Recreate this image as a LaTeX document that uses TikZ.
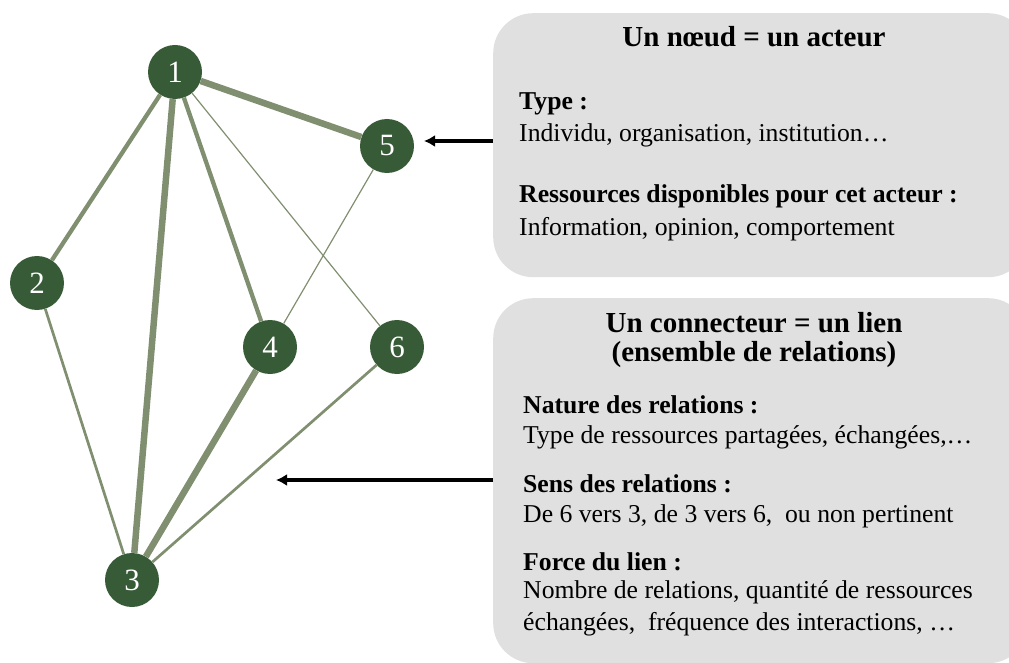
\documentclass[tikz,border=0pt]{standalone}
\usepackage{fontspec}
\setmainfont{Liberation Serif}
\usepackage{xcolor}
\usetikzlibrary{positioning,arrows.meta}

\definecolor{noeud}{RGB}{55,90,55}
\definecolor{lien}{RGB}{127,143,112}
\definecolor{fond}{RGB}{224,224,224}

\tikzset{
    acteur/.style={circle,fill=noeud,text=white,minimum size=54pt,inner sep=0pt,font=\fontsize{31}{31}\selectfont},
    lienfort/.style={draw=lien,line width=6.5pt},
    lienmoyen/.style={draw=lien,line width=4.3pt},
    lienfaible/.style={draw=lien,line width=2.7pt},
    lientenu/.style={draw=lien,line width=1.2pt},
    encadre/.style={fill=fond,rounded corners=40pt,inner sep=0pt,anchor=north west},
    titre/.style={font=\fontsize{29}{30}\selectfont\bfseries,anchor=base,inner sep=0pt},
    rubrique/.style={font=\fontsize{25.7}{31}\selectfont\bfseries,anchor=base west,inner sep=0pt},
    texte/.style={font=\fontsize{25.7}{31}\selectfont,anchor=base west,inner sep=0pt},
    fleche/.style={-{Latex[length=11pt,width=12pt]},line width=3.6pt}
}

\begin{document}
\begin{tikzpicture}[x=1pt,y=-1pt]
                    \useasboundingbox (0,0) rectangle (1009,663);
                    \clip (0,0) rectangle (1009,663);

                    % les deux encadres
                    \node[encadre,minimum width=535pt,minimum height=264pt] (boiteacteur) at (493,13) {};
                    \node[encadre,minimum width=535pt,minimum height=365pt] (boitelien) at (493,298) {};

                    % le reseau
                    \node[acteur] (n1) at (175,72) {1};
                    \node[acteur] (n2) at (37,283) {2};
                    \node[acteur] (n3) at (132,580) {3};
                    \node[acteur] (n4) at (270,347) {4};
                    \node[acteur] (n5) at (387,146) {5};
                    \node[acteur] (n6) at (397,347) {6};

                    \draw[lienfort] (n1) -- (n5);
                    \draw[lienfort] (n1) -- (n3);
                    \draw[lienfort] (n4) -- (n3);
                    \draw[lienmoyen] (n1) -- (n2);
                    \draw[lienmoyen] (n1) -- (n4);
                    \draw[lienfaible] (n2) -- (n3);
                    \draw[lienfaible] (n6) -- (n3);
                    \draw[lientenu] (n1) -- (n6);
                    \draw[lientenu] (n5) -- (n4);

                    % textes de l'acteur
                    \node[titre] (tacteur) at (754,47) {Un nœud = un acteur};
                    \foreach \y/\txt [count=\i] in {110/{Type :},203/{Ressources disponibles pour cet acteur :}}
                        \node[rubrique] (ra\i) at (519,\y) {\txt};
                    \foreach \y/\txt [count=\i] in {142/{Individu, organisation, institution…},235/{Information, opinion, comportement}}
                        \node[texte] (ta\i) at (519,\y) {\txt};

                    % textes du lien
                    \node[titre] (tlien) at (754,332) {Un connecteur = un lien};
                    \node[titre] (tlienb) at (754,361) {(ensemble de relations)};
                    \foreach \y/\txt [count=\i] in {413/{Nature des relations :},492/{Sens des relations :},570/{Force du lien :}}
                        \node[rubrique] (rl\i) at (523,\y) {\txt};
                    \foreach \y/\txt [count=\i] in {443/{Type de ressources partagées, échangées,…},522/{De 6 vers 3, de 3 vers 6,~ ou non pertinent},598/{Nombre de relations, quantité de ressources},630/{échangées,~ fréquence des interactions, …}}
                        \node[texte] (tl\i) at (523,\y) {\txt};

                    % fleches
                    \coordinate (vers5) at (424,141);
                    \coordinate (verslien) at (276,480);
                    \draw[fleche] (boiteacteur.west |- vers5) -- (vers5);
                    \draw[fleche] (boitelien.west |- verslien) -- (verslien);
\end{tikzpicture}
\end{document}
